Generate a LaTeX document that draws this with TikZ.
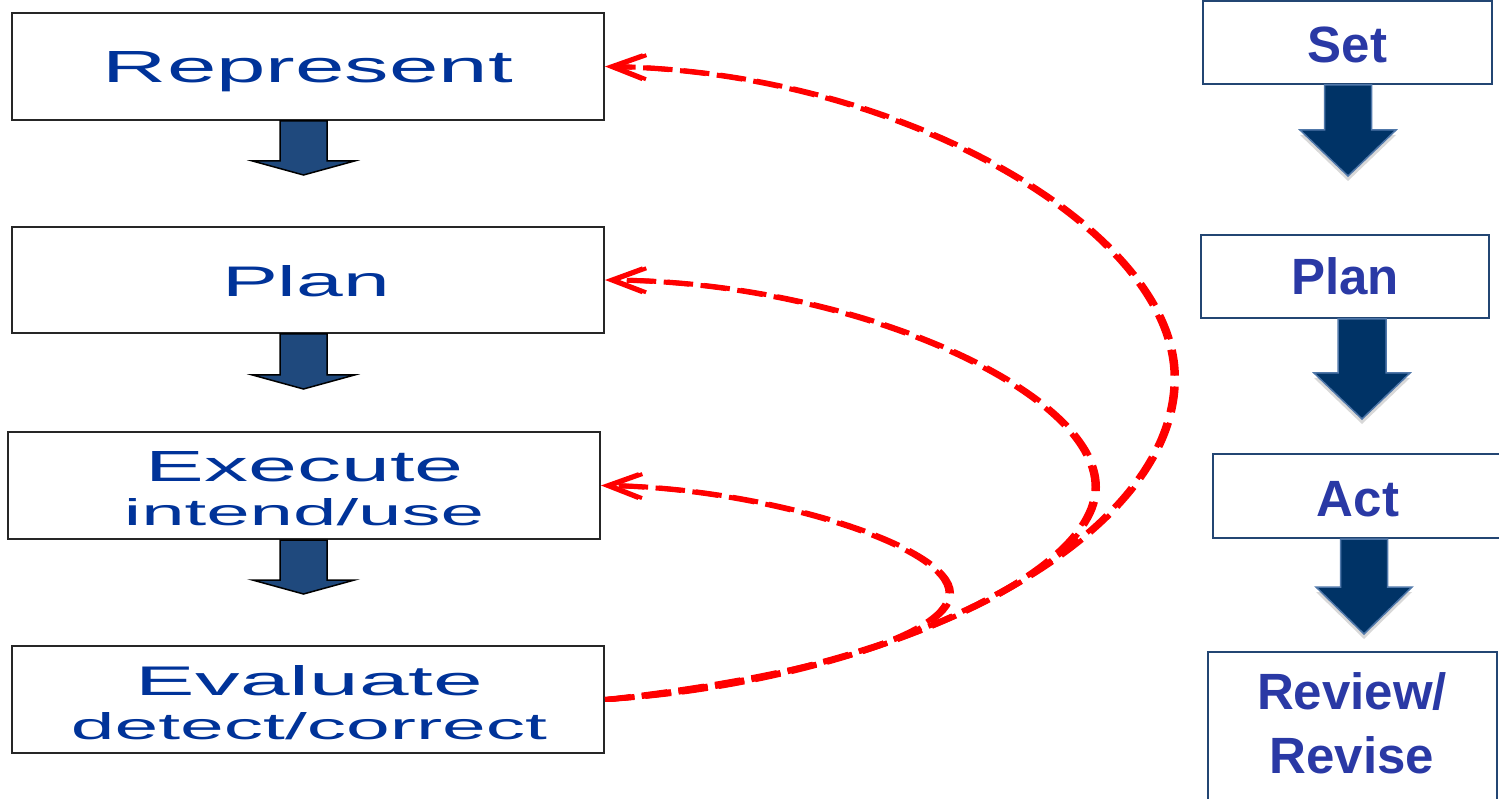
\documentclass[tikz,border=0pt]{standalone}
\usepackage{fontspec}
\setmainfont{Liberation Sans}
\usepackage{graphicx}
\usetikzlibrary{arrows.meta,calc,shadows}
\definecolor{ltxt}{RGB}{0,51,153}
\definecolor{rtxt}{RGB}{42,57,165}
\definecolor{larrfill}{RGB}{31,73,125}
\definecolor{rarrfill}{RGB}{0,51,102}
\definecolor{rarredge}{RGB}{80,120,170}
\definecolor{rboxedge}{RGB}{35,70,115}
\definecolor{fbred}{RGB}{255,0,0}
\newcommand{\blkarr}[6]{\draw[#1,shift={#2}] (-#3,0) -- (-#3,#4) -- (-#5,#4) -- (0,#4+#6) -- (#5,#4) -- (#3,#4) -- (#3,0) -- cycle;}
\tikzset{
  lbox/.style={draw=black!85, line width=2pt, fill=white, inner sep=0pt, minimum width=592pt},
  rbox/.style={draw=rboxedge, line width=2pt, fill=white, inner sep=0pt},
  ltext/.style={text=ltxt, inner sep=0pt, anchor=base, font=\fontsize{43}{43}\selectfont},
  rtext/.style={text=rtxt, inner sep=0pt, anchor=base, font=\fontsize{51}{51}\selectfont\bfseries},
  larr/.style={fill=larrfill, draw=black, line width=1.5pt},
  rarr/.style={fill=rarrfill, draw=rarredge, line width=1.5pt, drop shadow={shadow xshift=0pt, shadow yshift=-5pt, opacity=0.3}},
  fback/.style={draw=fbred, line width=5pt, dash pattern=on 26pt off 11pt, -{Straight Barb[length=32pt,width=24pt,line width=4pt]}},
  fbackwide/.style={fback, transform canvas={xshift=3.5pt}}
}
\begin{document}
\begin{tikzpicture}[x=1pt,y=-1pt]
\useasboundingbox[fill=white] (0,0) rectangle (1499,799);
% left boxes
\node[lbox, minimum height=107pt] (rep) at (308,66.5) {};
\node[lbox, minimum height=106pt] (plan) at (308,280) {};
\node[lbox, minimum height=107pt] (exe) at (304,485.5) {};
\node[lbox, minimum height=107pt] (eva) at (308,699.5) {};
% right boxes
\node[rbox, minimum width=289pt, minimum height=83pt] (set) at (1347.5,42.5) {};
\node[rbox, minimum width=288pt, minimum height=83pt] (rplan) at (1345,276.5) {};
\node[rbox, minimum width=292pt, minimum height=84pt] (act) at (1359,496) {};
\node[rbox, minimum width=289pt, minimum height=160pt] (rev) at (1352.5,732) {};
% left block arrows
\blkarr{larr}{($(rep.south)+(-4.5,0)$)}{23.5}{40}{51}{14}
\blkarr{larr}{($(plan.south)+(-4.5,0)$)}{23.5}{41}{51}{14}
\blkarr{larr}{($(exe.south)+(-0.5,0)$)}{23.5}{40}{51}{14}
% right block arrows
\blkarr{rarr}{($(set.south)+(0.5,0)$)}{23.5}{45}{48}{46}
\blkarr{rarr}{($(rplan.south)+(17,0)$)}{24}{54}{48}{46}
\blkarr{rarr}{($(act.south)+(5,0)$)}{23.5}{48}{48}{47}
% feedback curves
\coordinate (m1) at (1173,378);
\coordinate (m2) at (1094,487);
\coordinate (m3) at (948,593);
\foreach \st in {fback,fbackwide}{
\draw[\st] (eva.east) .. controls (900,680) and (1173,540) .. (m1) .. controls (1173,230) and (900,72) .. (rep.east);
\draw[\st] (eva.east) .. controls (850,680) and (1094,580) .. (m2) .. controls (1094,390) and (850,282) .. (plan.east);
\draw[\st] (eva.east) .. controls (780,680) and (948,640) .. (m3) .. controls (948,545) and (760,488) .. (exe.east);
}
% left texts
\node[ltext] (trep) at (308,83) {\resizebox{410pt}{31pt}{Represent}};
\node[ltext] (tplan) at (306,297) {\resizebox{168pt}{31pt}{Plan}};
\node[ltext] (texe) at (304.5,481) {\resizebox{318pt}{30pt}{Execute}};
\node[ltext] (tint) at (304,525) {\resizebox{360pt}{27pt}{intend/use}};
\node[ltext] (teva) at (309.5,695) {\resizebox{347pt}{30pt}{Evaluate}};
\node[ltext] (tdet) at (309,739) {\resizebox{476pt}{27pt}{detect/correct}};
% right texts
\node[rtext] (tset) at (1347.5,63) {Set};
\node[rtext] (trplan) at (1345,295) {Plan};
\node[rtext] (tact) at (1358,516) {Act};
\node[rtext] (trev) at (1352,709) {Review/};
\node[rtext] (trevise) at (1352,773) {Revise};
\end{tikzpicture}
\end{document}
